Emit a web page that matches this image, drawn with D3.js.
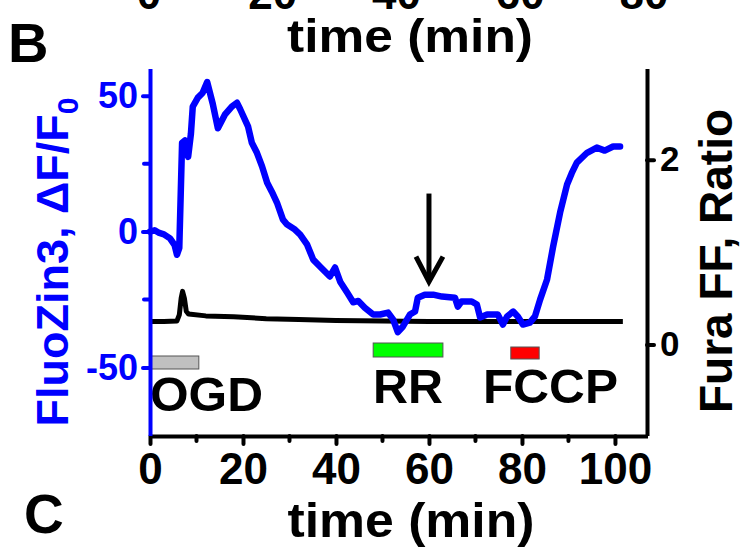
<!DOCTYPE html>
<html><head><meta charset="utf-8">
<script src="https://cdn.jsdelivr.net/npm/d3@7"></script>
<style>
html,body{margin:0;padding:0;background:#fff;}
svg{display:block;}
text{font-family:"Liberation Sans",Arial,sans-serif;font-weight:bold;}
</style></head><body>
<svg id="chart" width="740" height="552"></svg>
<script>
// ---- data ----
const fluoZin3 = [[0,0],[1,0.5],[2,-0.5],[3,-1],[4.3,-2.5],[5.3,-5],[5.8,-8.5],[6.3,-6],[6.9,32.7],[7.5,33.5],[8.2,27.5],[8.8,36],[9.2,46],[10.3,49.3],[11.3,51],[12.3,55],[13.5,47],[14.6,38],[16.1,43],[17.6,46],[18.7,47.4],[19.4,45],[21.1,38.6],[21.9,32.7],[23,29],[24.1,24],[25.2,18],[26.2,14.7],[27.3,10.7],[28.6,4.4],[29.5,2.6],[31,1],[32.3,-1.1],[33.8,-4.8],[35.1,-10.3],[36.6,-12.9],[38.7,-16.5],[39.8,-13.2],[40.9,-18.4],[42.4,-22.4],[43.7,-26],[44.8,-25.5],[46.2,-28],[48,-30.5],[49.5,-30.5],[51.2,-29.8],[52.3,-32.4],[53.3,-37],[54.4,-34.9],[55.9,-30.5],[57,-29.4],[57.6,-24.3],[59.1,-23.2],[60.9,-23.2],[62.8,-23.9],[65.6,-24.3],[66.2,-27.6],[67,-25.7],[69.2,-25.7],[70.3,-26.8],[71,-31.6],[72.5,-30.5],[74.8,-30.5],[75.9,-34.2],[76.8,-31.2],[78.1,-29.4],[79.1,-31.2],[80.2,-34.2],[81.7,-33.5],[82.8,-31.2],[83.9,-25],[85.4,-17.6],[86.7,-5.5],[88.2,7],[89.7,17.3],[90.7,21.5],[91.8,25.4],[94,29],[96.1,30.9],[97.8,29.8],[99.6,31.3],[101.1,31.3]];
const furaRatio = [[0,0.25],[3,0.25],[5.8,0.255],[6.3,0.32],[6.7,0.5],[7.0,0.575],[7.4,0.5],[7.8,0.36],[8.3,0.33],[12,0.31],[18,0.3],[25,0.28],[32,0.27],[40,0.26],[50,0.255],[60,0.25],[70,0.25],[80,0.25],[90,0.25],[101.7,0.25]];
const xTicks = [0,20,40,60,80,100];
const xMinorTicks = [10,30,50,70,90];
const leftTicks = [-50,0,50];
const leftMinorTicks = [-25,25];
const rightTicks = [0,2];
const topPanelTicks = [0,20,40,60,80];
const treatments = ["OGD","RR","FCCP"];
const treatmentStart = [0,48,77.6];
const treatmentEnd = [10.5,63,83.7];
const arrowTime = 60;
const arrowFrom = 14, arrowTo = -18.4;

// ---- layout ----
const svg = d3.select("#chart");
const x = d3.scaleLinear().domain([0,107]).range([150,647.5]);
const yL = d3.scaleLinear().domain([-75,60]).range([435.5,68.5]);
const yR = d3.scaleLinear().domain([-0.984,2.986]).range([435.5,68.5]);
const xTop = d3.scaleLinear().domain([0,80]).range([149,644]);
const BLUE = "#0000ff";

// top partial panel remnants
svg.append("g").selectAll("text").data(topPanelTicks).join("text")
  .attr("x", d=>xTop(d)).attr("y", 9).attr("text-anchor","middle")
  .attr("font-size",44).text(d=>d);
svg.append("text").attr("x",410).attr("y",52).attr("text-anchor","middle")
  .attr("font-size",46).attr("textLength",246).attr("lengthAdjust","spacingAndGlyphs").text("time (min)");
svg.append("text").attr("x",8).attr("y",62).attr("font-size",56).text("B");
svg.append("text").attr("x",24).attr("y",533).attr("font-size",55).text("C");

// treatment bars
const barY = [[356,369],[343,357],[347,359]];
const barFill = ["#c0c0c0","#00ff00","#ff0000"];
svg.append("g").selectAll("rect").data(treatments).join("rect")
  .attr("x",(d,i)=>x(treatmentStart[i]))
  .attr("width",(d,i)=>x(treatmentEnd[i])-x(treatmentStart[i]))
  .attr("y",(d,i)=>barY[i][0]).attr("height",(d,i)=>barY[i][1]-barY[i][0])
  .attr("fill",(d,i)=>barFill[i]).attr("stroke","#555").attr("stroke-width",1);
const labelPos = [[150,411],[373,403],[483,403]];
const labelLen = [113,70,135];
svg.append("g").selectAll("text").data(treatments).join("text")
  .attr("x",(d,i)=>labelPos[i][0]).attr("y",(d,i)=>labelPos[i][1])
  .attr("font-size",49).attr("textLength",(d,i)=>labelLen[i]).attr("lengthAdjust","spacingAndGlyphs").text(d=>d);

// traces
svg.append("path").datum(furaRatio)
  .attr("d", d3.line().x(d=>x(d[0])).y(d=>yR(d[1])))
  .attr("fill","none").attr("stroke","#000").attr("stroke-width",5).attr("stroke-linejoin","round");
svg.append("path").datum(fluoZin3)
  .attr("d", d3.line().x(d=>x(d[0])).y(d=>yL(d[1])))
  .attr("fill","none").attr("stroke",BLUE).attr("stroke-width",6.5)
  .attr("stroke-linejoin","round").attr("stroke-linecap","round");

// arrow
const ax = x(arrowTime), tipY = yL(arrowTo);
svg.append("line").attr("x1",ax).attr("x2",ax).attr("y1",yL(arrowFrom)).attr("y2",tipY-2)
  .attr("stroke","#000").attr("stroke-width",5);
svg.append("path").attr("d",`M${ax-13},${tipY-25}L${ax},${tipY}L${ax+14},${tipY-25}`)
  .attr("fill","none").attr("stroke","#000").attr("stroke-width",5).attr("stroke-linejoin","miter");

// axes
function styleAxis(g, color, w){
  g.select(".domain").attr("stroke",color).attr("stroke-width",w);
  g.selectAll(".tick line").attr("stroke",color).attr("stroke-width",w).attr("stroke-linecap","round");
  g.selectAll(".tick text").attr("fill",color);
}
const gB = svg.append("g").attr("transform","translate(0,436)")
  .call(d3.axisBottom(x).tickValues(xTicks).tickSize(8).tickSizeOuter(0).tickPadding(9).tickFormat(d=>String(d)));
gB.attr("font-size",44).attr("font-family",null);
styleAxis(gB,"#000",4);
gB.selectAll(".minor").data(xMinorTicks).join("line").attr("class","minor")
  .attr("x1",d=>x(d)).attr("x2",d=>x(d)).attr("y1",0).attr("y2",5)
  .attr("stroke","#000").attr("stroke-width",4).attr("stroke-linecap","round");

const gL = svg.append("g").attr("transform","translate(150,0)")
  .call(d3.axisLeft(yL).tickValues(leftTicks).tickSize(7).tickSizeOuter(0).tickPadding(5).tickFormat(d=>String(d)));
gL.attr("font-size",36).attr("font-family",null);
styleAxis(gL,BLUE,4);
gL.selectAll(".minor").data(leftMinorTicks).join("line").attr("class","minor")
  .attr("x1",0).attr("x2",-6).attr("y1",d=>yL(d)).attr("y2",d=>yL(d))
  .attr("stroke",BLUE).attr("stroke-width",4).attr("stroke-linecap","round");

const gR = svg.append("g").attr("transform","translate(647,0)")
  .call(d3.axisRight(yR).tickValues(rightTicks).tickSize(7).tickSizeOuter(0).tickPadding(6).tickFormat(d=>String(d)));
gR.attr("font-size",35).attr("font-family",null);
styleAxis(gR,"#000",4);

// axis titles
svg.append("text").attr("x",411).attr("y",537).attr("text-anchor","middle")
  .attr("font-size",48).attr("textLength",247).attr("lengthAdjust","spacingAndGlyphs").text("time (min)");
const lt = svg.append("text").attr("transform","translate(68,262) rotate(-90)")
  .attr("text-anchor","middle").attr("font-size",45).attr("fill",BLUE);
lt.append("tspan").text("FluoZin3, \u0394F/F");
lt.append("tspan").attr("font-size",30).attr("dy",10).text("0");
svg.append("text").attr("transform","translate(732,261) rotate(-90)")
  .attr("text-anchor","middle").attr("font-size",46).text("Fura FF, Ratio");
</script>
</body></html>
